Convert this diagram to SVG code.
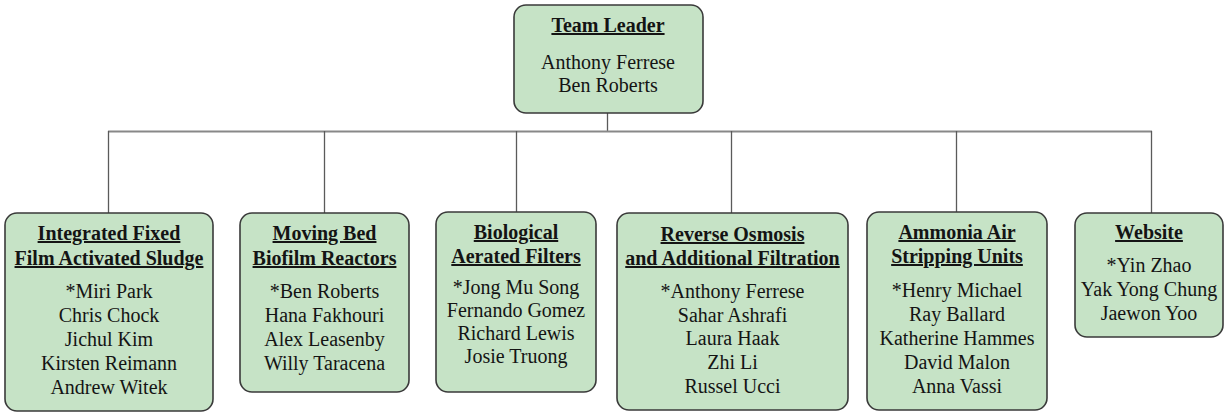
<svg xmlns="http://www.w3.org/2000/svg" width="1225" height="412" viewBox="0 0 1225 412">
<style>
.box{fill:#c6e3c6;stroke:#3a3a3a;stroke-width:1.6}
.t{font-family:"Liberation Serif","Times New Roman",serif;font-size:20px;fill:#141414;text-anchor:middle}
.h{font-weight:bold;text-decoration:underline}
.c{stroke:#5a5a5a;stroke-width:1.3;fill:none}
</style>
<rect width="1225" height="412" fill="#ffffff"/>
<g id="connectors">
<line class="c" x1="607.5" y1="113" x2="607.5" y2="131.5"/>
<line class="c" x1="108" y1="131.5" x2="1152" y2="131.5" style="stroke:#888;stroke-width:2"/>
<line class="c" x1="108.5" y1="131" x2="108.5" y2="213"/>
<line class="c" x1="324.5" y1="131" x2="324.5" y2="213"/>
<line class="c" x1="516.5" y1="131" x2="516.5" y2="212"/>
<line class="c" x1="731.5" y1="131" x2="731.5" y2="213"/>
<line class="c" x1="956.5" y1="131" x2="956.5" y2="212"/>
<line class="c" x1="1151.5" y1="131" x2="1151.5" y2="213"/>
</g>
<g id="team-leader">
<rect class="box" x="514" y="5" width="189" height="108" rx="12"/>
<text class="t h" x="608" y="32">Team Leader</text>
<text class="t" x="608" y="69">Anthony Ferrese</text>
<text class="t" x="608" y="92">Ben Roberts</text>
</g>
<g id="ifas">
<rect class="box" x="5" y="213" width="208" height="198" rx="12"/>
<text class="t h" x="109" y="240">Integrated Fixed</text>
<text class="t h" x="109" y="265">Film Activated Sludge</text>
<text class="t" x="109" y="298">*Miri Park</text>
<text class="t" x="109" y="322">Chris Chock</text>
<text class="t" x="109" y="346">Jichul Kim</text>
<text class="t" x="109" y="370">Kirsten Reimann</text>
<text class="t" x="109" y="394">Andrew Witek</text>
</g>
<g id="mbbr">
<rect class="box" x="240" y="213" width="169" height="179" rx="12"/>
<text class="t h" x="324.5" y="240">Moving Bed</text>
<text class="t h" x="324.5" y="265">Biofilm Reactors</text>
<text class="t" x="324.5" y="298">*Ben Roberts</text>
<text class="t" x="324.5" y="322">Hana Fakhouri</text>
<text class="t" x="324.5" y="346">Alex Leasenby</text>
<text class="t" x="324.5" y="370">Willy Taracena</text>
</g>
<g id="baf">
<rect class="box" x="436" y="212" width="160" height="180" rx="12"/>
<text class="t h" x="516" y="239">Biological</text>
<text class="t h" x="516" y="263">Aerated Filters</text>
<text class="t" x="516" y="294">*Jong Mu Song</text>
<text class="t" x="516" y="317">Fernando Gomez</text>
<text class="t" x="516" y="340">Richard Lewis</text>
<text class="t" x="516" y="363">Josie Truong</text>
</g>
<g id="ro">
<rect class="box" x="617" y="213" width="231" height="197" rx="12"/>
<text class="t h" x="732.5" y="241">Reverse Osmosis</text>
<text class="t h" x="732.5" y="265">and Additional Filtration</text>
<text class="t" x="732.5" y="298">*Anthony Ferrese</text>
<text class="t" x="732.5" y="322">Sahar Ashrafi</text>
<text class="t" x="732.5" y="345">Laura Haak</text>
<text class="t" x="732.5" y="369">Zhi Li</text>
<text class="t" x="732.5" y="393">Russel Ucci</text>
</g>
<g id="ammonia">
<rect class="box" x="867" y="212" width="180" height="198" rx="12"/>
<text class="t h" x="957" y="239">Ammonia Air</text>
<text class="t h" x="957" y="263">Stripping Units</text>
<text class="t" x="957" y="297">*Henry Michael</text>
<text class="t" x="957" y="321">Ray Ballard</text>
<text class="t" x="957" y="345">Katherine Hammes</text>
<text class="t" x="957" y="369">David Malon</text>
<text class="t" x="957" y="393">Anna Vassi</text>
</g>
<g id="website">
<rect class="box" x="1075" y="213" width="148" height="124" rx="12"/>
<text class="t h" x="1149" y="239">Website</text>
<text class="t" x="1149" y="272">*Yin Zhao</text>
<text class="t" x="1149" y="296">Yak Yong Chung</text>
<text class="t" x="1149" y="320">Jaewon Yoo</text>
</g>
</svg>
